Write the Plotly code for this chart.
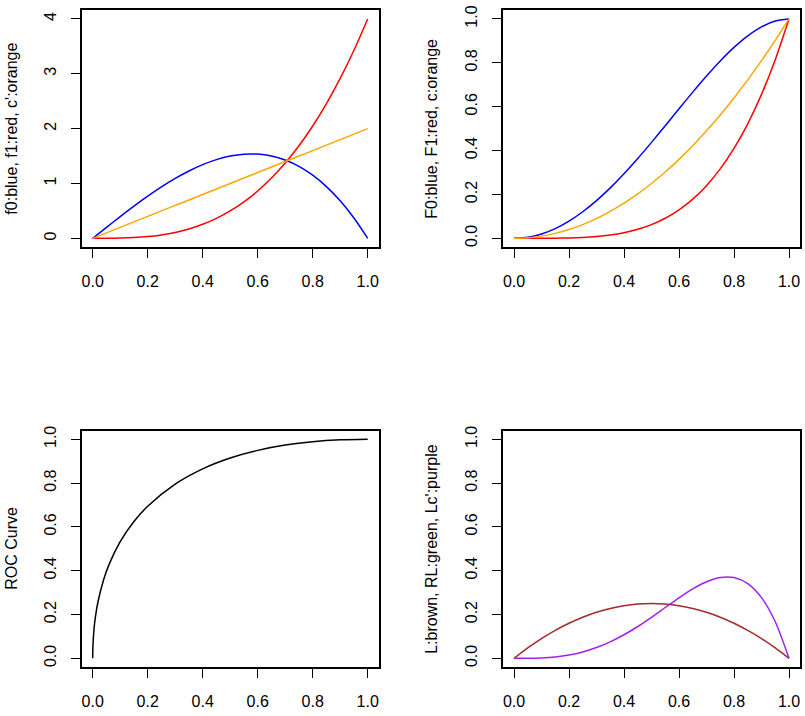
import plotly.graph_objects as go

# ---- data ----
x = [0, .05, .1, .15, .2, .25, .3, .35, .4, .45, .5, .55, .6, .65, .7, .75, .8, .85, .9, .95, 1]

f0 = [0, .1995, .396, .5865, .768, .9375, 1.092, 1.2285, 1.344, 1.4355, 1.5, 1.5345, 1.536,
      1.5015, 1.428, 1.3125, 1.152, .9435, .684, .3705, 0]
f1 = [0, .0005, .004, .0135, .032, .0625, .108, .1715, .256, .3645, .5, .6655, .864, 1.0985,
      1.372, 1.6875, 2.048, 2.4565, 2.916, 3.4295, 4]
c_prime = [0, .1, .2, .3, .4, .5, .6, .7, .8, .9, 1.0, 1.1, 1.2, 1.3, 1.4, 1.5, 1.6, 1.7, 1.8, 1.9, 2.0]

F0 = [0, .00499375, .0199, .04449375, .0784, .12109375, .1719, .22999375, .2944, .36399375, .4375,
      .51349375, .5904, .66649375, .7399, .80859375, .8704, .92299375, .9639, .99049375, 1]
F1 = [0, .00000625, .0001, .00050625, .0016, .00390625, .0081, .01500625, .0256, .04100625, .0625,
      .09150625, .1296, .17850625, .2401, .31640625, .4096, .52200625, .6561, .81450625, 1]
c_vals = [0, .0025, .01, .0225, .04, .0625, .09, .1225, .16, .2025, .25, .3025, .36, .4225, .49,
          .5625, .64, .7225, .81, .9025, 1]

roc_x = [0, .0002, .001, .005, .01, .02, .04, .06, .1, .15, .2, .3, .4, .5, .6, .7, .8, .9, 1.0]
roc_y = [0, .028084, .062246, .136421, .19, .262843, .36, .429898, .532456, .624597, .694427,
         .795445, .864911, .914214, .949193, .97332, .988854, .997367, 1.0]

L = [0, .0475, .09, .1275, .16, .1875, .21, .2275, .24, .2475, .25, .2475, .24, .2275, .21, .1875,
     .16, .1275, .09, .0475, 0]
Lc_prime = [0, .000249375, .00198, .006598125, .01536, .029296875, .04914, .075245625, .10752,
            .145344375, .1875, .232093125, .27648, .317191875, .34986, .369140625, .36864,
            .340839375, .27702, .167188125, 0]

unit_ticks = [0, 0.2, 0.4, 0.6, 0.8, 1.0]
unit_labels = ["0.0", "0.2", "0.4", "0.6", "0.8", "1.0"]
dens_ticks = [0, 1, 2, 3, 4]
dens_labels = ["0", "1", "2", "3", "4"]

titles = ["f0:blue, f1:red, c':orange", "F0:blue, F1:red, c:orange",
          "ROC Curve", "L:brown, RL:green, Lc':purple"]

# ---- figure ----
W, H = 805, 716
FONT = "Liberation Sans, Arial, Helvetica, sans-serif"
fig = go.Figure()

def line(xs, ys, color, ax):
    fig.add_trace(go.Scatter(x=xs, y=ys, mode="lines",
                             line=dict(color=color, width=1.5, shape="spline", smoothing=0.8),
                             xaxis="x" + ax, yaxis="y" + ax, showlegend=False,
                             hoverinfo="skip"))

line(x, f0, "#0000FF", "")
line(x, f1, "#FF0000", "")
line(x, c_prime, "#FFA500", "")
line(x, F0, "#0000FF", "2")
line(x, F1, "#FF0000", "2")
line(x, c_vals, "#FFA500", "2")
line(roc_x, roc_y, "#000000", "3")
line(x, L, "#A52A2A", "4")
line(x, Lc_prime, "#A020F0", "4")

xd_left = [81.7 / W, 378.7 / W]
xd_right = [503 / W, 800 / W]
yd_top = [1 - 247.1 / H, 1 - 10.2 / H]
yd_bot = [1 - 667.1 / H, 1 - 430.5 / H]

def xaxis(dom, anchor):
    return dict(domain=dom, anchor=anchor, range=[-0.04, 1.04], tickvals=unit_ticks,
                ticktext=unit_labels, ticks="outside", ticklen=9, tickwidth=1.2,
                tickcolor="black", showline=True, mirror=True, linecolor="black",
                linewidth=1.5, showgrid=False, zeroline=False, automargin=False,
                tickfont=dict(family=FONT, size=16, color="black"), ticklabelstandoff=10)

def yaxis(dom, anchor, rng, tv, tt):
    return dict(domain=dom, anchor=anchor, range=rng, tickvals=tv, ticktext=tt,
                ticks="outside", ticklen=9, tickwidth=1.2, tickcolor="black",
                showline=True, mirror=True, linecolor="black", linewidth=1.5,
                showgrid=False, zeroline=False, tickangle=-90, automargin=False,
                tickfont=dict(family=FONT, size=16, color="black"), ticklabelstandoff=9)

fig.update_layout(
    width=W, height=H, margin=dict(l=0, r=0, t=0, b=0, autoexpand=False),
    paper_bgcolor="white", plot_bgcolor="white",
    xaxis=xaxis(xd_left, "y"), yaxis=yaxis(yd_top, "x", [-0.16, 4.16], dens_ticks, dens_labels),
    xaxis2=xaxis(xd_right, "y2"), yaxis2=yaxis(yd_top, "x2", [-0.04, 1.04], unit_ticks, unit_labels),
    xaxis3=xaxis(xd_left, "y3"), yaxis3=yaxis(yd_bot, "x3", [-0.04, 1.04], unit_ticks, unit_labels),
    xaxis4=xaxis(xd_right, "y4"), yaxis4=yaxis(yd_bot, "x4", [-0.04, 1.04], unit_ticks, unit_labels),
)

title_x = [12 / W, 432 / W, 12 / W, 432 / W]
title_y = [sum(yd_top) / 2, sum(yd_top) / 2, sum(yd_bot) / 2, sum(yd_bot) / 2]
for t, tx, ty in zip(titles, title_x, title_y):
    fig.add_annotation(text=t, x=tx, y=ty, xref="paper", yref="paper", textangle=-90,
                       showarrow=False, xanchor="center", yanchor="middle",
                       font=dict(family=FONT, size=16, color="black"))

fig.write_html("out.html")
